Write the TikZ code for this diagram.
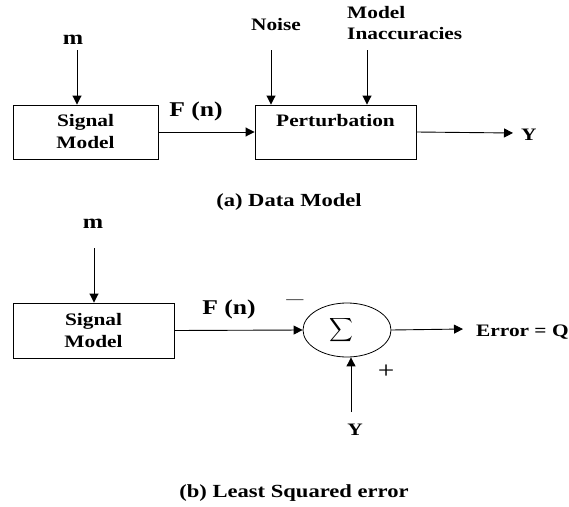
\documentclass[tikz,border=0pt]{standalone}
\usepackage{fontspec}
\setmainfont{Liberation Serif}[FakeStretch=1.22]
\usetikzlibrary{arrows.meta,shapes.geometric}
\begin{document}
\begin{tikzpicture}[x=1pt,y=-1pt,
  lbl/.style={font=\bfseries\fontsize{17.5}{20}\selectfont, inner sep=0pt, align=left},
  mlbl/.style={font=\bfseries\fontsize{20}{20}\selectfont, inner sep=0pt},
  boxnode/.style={draw, line width=0.9pt, rectangle, align=center, inner sep=0pt,
                  font=\bfseries\fontsize{17.5}{22}\selectfont},
  arr/.style={line width=0.9pt, -{Triangle[length=9pt,width=9pt]}},
  fnlbl/.style={font=\bfseries\fontsize{21}{22}\selectfont, inner sep=0pt},
  caplbl/.style={font=\bfseries\fontsize{18.5}{20}\selectfont, inner sep=0pt}]
\useasboundingbox (0,0) rectangle (569,506);

% ---------- (a) Data Model ----------
\node[mlbl] (m1) at (73,40) {m};
\coordinate (m1s) at (77,50);
\node[boxnode, minimum width=145pt, minimum height=54pt] (sig1) at (85.5,132) {Signal\\Model};
\node[fnlbl] (fn1) at (196,111) {F (n)};
\node[boxnode, minimum width=161pt, minimum height=54pt,
      label={[anchor=north, font=\bfseries\fontsize{17.5}{20}\selectfont, yshift=-6pt]north:Perturbation}] (pert) at (335.5,132) {};
\node[lbl] (noise) at (276,25) {Noise};
\coordinate (ns) at (271,50);
\node[lbl, anchor=west, font=\bfseries\fontsize{17.5}{21}\selectfont] (inacc) at (347,23) {Model\\Inaccuracies};
\coordinate (is) at (367,50);
\coordinate (yout) at (513,133);
\node[lbl, anchor=west] (y1) at (521,135) {Y};
\node[caplbl] (capa) at (289,202) {(a) Data Model};

\draw[arr] (m1s) -- (m1s |- sig1.north);
\draw[arr] (ns) -- (ns |- pert.north);
\draw[arr] (is) -- (is |- pert.north);
\draw[arr] (sig1.east) -- (pert.west);
\draw[arr] (pert.east) -- (yout);

% ---------- (b) Least Squared error ----------
\node[mlbl] (m2) at (93,224) {m};
\coordinate (m2s) at (94,248);
\node[boxnode, minimum width=161pt, minimum height=55pt] (sig2) at (93.5,330.5) {Signal\\Model};
\node[fnlbl] (fn2) at (229,309) {F (n)};
\node[draw, ellipse, line width=0.8pt, minimum width=88pt, minimum height=54pt, inner sep=0pt] (sum) at (347,330) {\scalebox{1.65}{$\displaystyle\sum$}\hspace*{12pt}};
\node[font=\fontsize{14}{14}\selectfont, inner sep=0pt] (minus) at (295,302) {\textemdash};
\node[font=\fontsize{24}{24}\selectfont, inner sep=0pt] (plus) at (386,372) {+};
\coordinate (yin) at (351,412);
\node[lbl] (y2) at (355,430) {Y};
\coordinate (eout) at (463,329);
\node[lbl, anchor=west] (err) at (476,332) {Error = Q};
\node[caplbl] (capb) at (294,493) {(b) Least Squared error};

\draw[arr] (m2s) -- (m2s |- sig2.north);
\draw[arr] (sig2.east) -- (sum.west);
\draw[arr] (sum.east) -- (eout);
\draw[arr] (yin) -- (yin |- sum.south);
\end{tikzpicture}
\end{document}
